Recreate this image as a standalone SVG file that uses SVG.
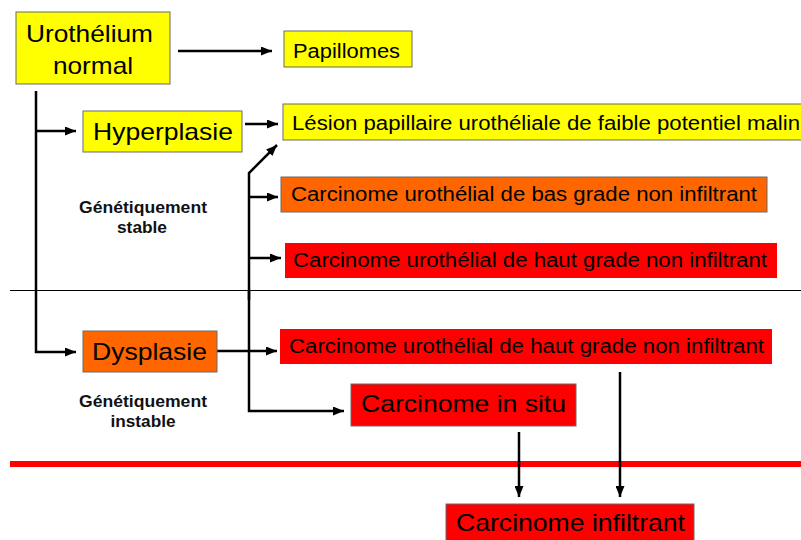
<svg xmlns="http://www.w3.org/2000/svg" width="801" height="540" viewBox="0 0 801 540">
<style>
.box{stroke:#6b6b6b;stroke-width:1}
.y{fill:#ffff00}
.o{fill:#ff6600}
.r{fill:#ff0000}
text{font-family:"Liberation Sans",Arial,sans-serif;fill:#000}
.big{font-size:24px}
.mid{font-size:20px}
.note{font-size:16px;font-weight:bold;text-anchor:middle;fill:#111}
.c{fill:none;stroke:#000;stroke-width:2.5}
</style>
<defs>
<marker id="ah" markerUnits="userSpaceOnUse" markerWidth="11" markerHeight="9" refX="11" refY="4.5" orient="auto">
<path d="M0,0 L11,4.5 L0,9 z" fill="#000"/>
</marker>
</defs>
<rect width="801" height="540" fill="#fff"/>
<line x1="10" y1="290.5" x2="801" y2="290.5" stroke="#000" stroke-width="1"/>
<rect x="10" y="461" width="791" height="6" fill="#ff0000"/>
<g id="connectors">
<path class="c" d="M178,51 H272" marker-end="url(#ah)"/>
<path class="c" d="M36,91 V352 H76" marker-end="url(#ah)"/>
<path class="c" d="M36,131 H76" marker-end="url(#ah)"/>
<path class="c" d="M245,124 H278" marker-end="url(#ah)"/>
<path class="c" d="M249,300 V173 L277,145" marker-end="url(#ah)"/>
<path class="c" d="M249,290 V411 H344" marker-end="url(#ah)"/>
<path class="c" d="M249,197 H278" marker-end="url(#ah)"/>
<path class="c" d="M249,258 H281" marker-end="url(#ah)"/>
<path class="c" d="M217,351 H277" marker-end="url(#ah)"/>
<path class="c" d="M519,432 V497" marker-end="url(#ah)"/>
<path class="c" d="M620,372 V497" marker-end="url(#ah)"/>
</g>
<g id="urothelium">
<rect class="box y" x="16" y="12" width="154" height="72"/>
<text class="big" x="26" y="42" textLength="127" lengthAdjust="spacingAndGlyphs">Urothélium</text>
<text class="big" x="53" y="74" textLength="80" lengthAdjust="spacingAndGlyphs">normal</text>
</g>
<g id="papillomes">
<rect class="box y" x="284" y="31" width="128" height="36"/>
<text class="mid" x="293" y="58" textLength="107" lengthAdjust="spacingAndGlyphs">Papillomes</text>
</g>
<g id="hyperplasie">
<rect class="box y" x="83" y="111" width="159" height="41"/>
<text class="big" x="93" y="140" textLength="140" lengthAdjust="spacingAndGlyphs">Hyperplasie</text>
</g>
<g id="lesion">
<rect class="box y" x="283" y="104" width="530" height="36"/>
<text class="mid" x="292" y="130" textLength="508" lengthAdjust="spacingAndGlyphs">Lésion papillaire urothéliale de faible potentiel malin</text>
</g>
<g id="bas-grade">
<rect class="box o" x="281" y="177" width="486" height="35"/>
<text class="mid" x="291" y="201" textLength="466" lengthAdjust="spacingAndGlyphs">Carcinome urothélial de bas grade non infiltrant</text>
</g>
<g id="haut-grade-1">
<rect class="r" x="285" y="243" width="492" height="35"/>
<text class="mid" x="293" y="267" textLength="474" lengthAdjust="spacingAndGlyphs">Carcinome urothélial de haut grade non infiltrant</text>
</g>
<g id="stable">
<text class="note" x="143" y="213" textLength="128" lengthAdjust="spacingAndGlyphs">Génétiquement</text>
<text class="note" x="142" y="233" textLength="50" lengthAdjust="spacingAndGlyphs">stable</text>
</g>
<g id="dysplasie">
<rect class="box o" x="83" y="331" width="134" height="41"/>
<text class="big" x="92" y="360" textLength="115" lengthAdjust="spacingAndGlyphs">Dysplasie</text>
</g>
<g id="haut-grade-2">
<rect class="r" x="280" y="329" width="492" height="35"/>
<text class="mid" x="289" y="353" textLength="475" lengthAdjust="spacingAndGlyphs">Carcinome urothélial de haut grade non infiltrant</text>
</g>
<g id="instable">
<text class="note" x="143" y="407" textLength="128" lengthAdjust="spacingAndGlyphs">Génétiquement</text>
<text class="note" x="143" y="427" textLength="65" lengthAdjust="spacingAndGlyphs">instable</text>
</g>
<g id="in-situ">
<rect class="box r" x="351" y="384" width="225" height="42"/>
<text class="big" x="361" y="412" textLength="205" lengthAdjust="spacingAndGlyphs">Carcinome in situ</text>
</g>
<g id="infiltrant">
<rect class="box r" x="446" y="504" width="248" height="50"/>
<text class="big" x="456" y="531" textLength="229" lengthAdjust="spacingAndGlyphs">Carcinome infiltrant</text>
</g>
</svg>
